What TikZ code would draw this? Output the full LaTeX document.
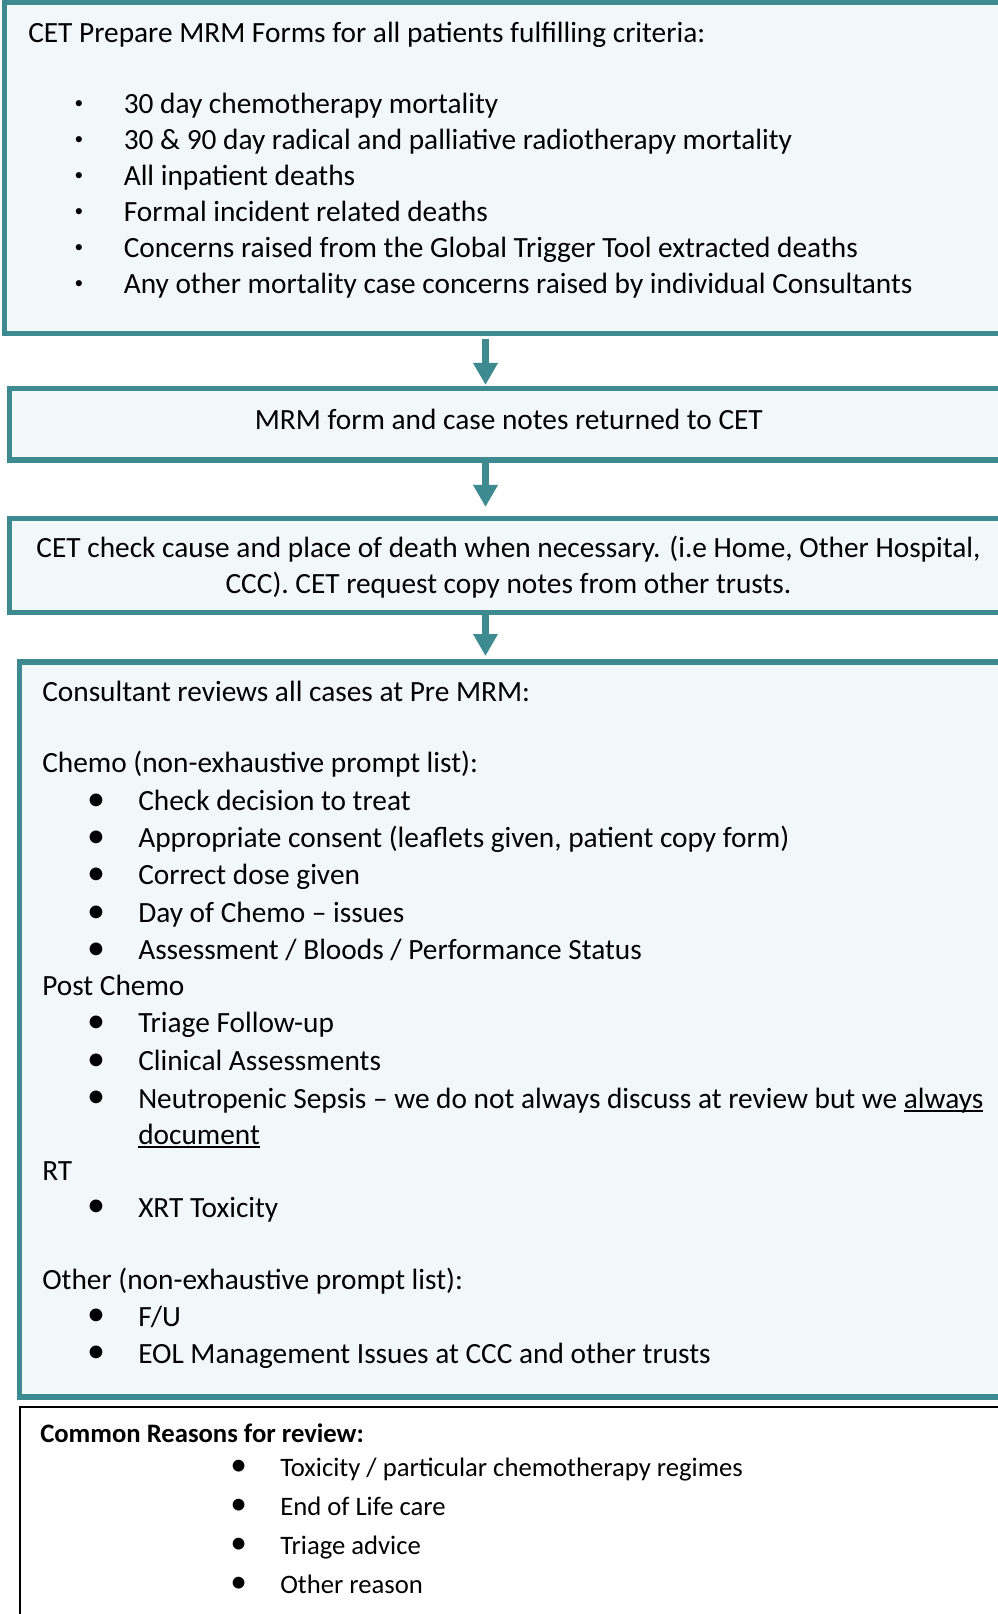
\documentclass[tikz,border=0pt]{standalone}
\usepackage{fontspec}
\setmainfont{Carlito}
\usetikzlibrary{arrows.meta}
\definecolor{tealc}{RGB}{61,139,145}
\definecolor{fillc}{RGB}{242,247,250}
\newcommand\myul[1]{{\setbox0\hbox{#1}\rlap{\rule[-3.3pt]{\wd0}{1.5pt}}\box0}}
\begin{document}
\begin{tikzpicture}[x=0.75pt,y=-0.75pt,
  tbox/.style={draw=tealc, line width=3.9pt, fill=fillc, rectangle, inner sep=0pt, outer sep=0pt, anchor=north west},
  wbox/.style={draw=black, line width=1.1pt, fill=white, rectangle, inner sep=0pt, outer sep=0pt, anchor=north west},
  txt/.style={font=\fontsize{22pt}{26pt}\selectfont, inner sep=0pt, anchor=base west},
  ctxt/.style={font=\fontsize{22pt}{26pt}\selectfont, inner sep=0pt, anchor=base},
  stxt/.style={font=\fontsize{20pt}{24pt}\selectfont, inner sep=0pt, anchor=base west},
  sbul/.style={font=\fontsize{13pt}{14pt}\selectfont, inner sep=0pt, anchor=center},
  bbul/.style={font=\fontsize{27pt}{28pt}\selectfont, inner sep=0pt, anchor=center},
  arr/.style={draw=tealc, line width=5.6pt, -{Triangle[width=17.5pt,length=16.5pt]}}
]
\useasboundingbox (0,0) rectangle (998,1614);

% boxes
\node[tbox, minimum width=754pt, minimum height=248.6pt] (b1) at (4.5,2) {};
\node[tbox, minimum width=750pt, minimum height=53.8pt] (b2) at (9.8,388.3) {};
\node[tbox, minimum width=750pt, minimum height=70.7pt] (b3) at (9.7,518.3) {};
\node[tbox, minimum width=742.5pt, minimum height=551.3pt] (b4) at (19.7,662) {};
\node[wbox, minimum width=742.5pt, minimum height=172.5pt] (b5) at (20,1407) {};

% arrows
\coordinate (ax) at (485.5,0);
\draw[arr, shorten <=4pt, shorten >=2.5pt] (b1.south -| ax) -- (b2.north -| ax);
\draw[arr, shorten <=2pt, shorten >=8.5pt] (b2.south -| ax) -- (b3.north -| ax);
\draw[arr, shorten <=2pt, shorten >=4.5pt] (b3.south -| ax) -- (b4.north -| ax);

% box 1
\node[txt] (t1) at (28,42) {CET Prepare MRM Forms for all patients fulfilling criteria:};
\foreach \yy/\nn in {105/p1,141/p2,177/p3,213/p4,249/p5,285/p6}
  \node[sbul] (\nn) at (79,\yy) {•};
\node[txt] (l1) at (123.5,113) {30 day chemotherapy mortality};
\node[txt] (l2) at (123.5,149) {30 \& 90 day radical and palliative radiotherapy mortality};
\node[txt] (l3) at (123.5,185) {All inpatient deaths};
\node[txt] (l4) at (123.5,221) {Formal incident related deaths};
\node[txt] (l5) at (123.5,257) {Concerns raised from the Global Trigger Tool extracted deaths};
\node[txt] (l6) at (123.5,293) {Any other mortality case concerns raised by individual Consultants};

% box 2
\node[ctxt] (t2) at (508.8,429) {MRM form and case notes returned to CET};

% box 3
\node[ctxt] (t3a) at (508.5,557.5) {CET check cause and place of death when necessary. (i.e Home, Other Hospital,};
\node[ctxt] (t3b) at (508.5,593.5) {CCC). CET request copy notes from other trusts.};

% box 4
\node[txt] (c0) at (42,701.5) {Consultant reviews all cases at Pre MRM:};
\node[txt] (c1) at (42,772.5) {Chemo (non-exhaustive prompt list):};
\node[txt] (c2) at (138,810.5) {Check decision to treat};
\node[txt] (c3) at (138,847.6) {Appropriate consent (leaflets given, patient copy form)};
\node[txt] (c4) at (138,884.6) {Correct dose given};
\node[txt] (c5) at (138,922.7) {Day of Chemo – issues};
\node[txt] (c6) at (138,959.8) {Assessment / Bloods / Performance Status};
\node[txt] (c7) at (42,995.8) {Post Chemo};
\node[txt] (c8) at (138,1032.9) {Triage Follow-up};
\node[txt] (c9) at (138,1070.9) {Clinical Assessments};
\node[txt] (c10) at (138,1108) {Neutropenic Sepsis – we do not always discuss at review but we \myul{always}};
\node[txt] (c11) at (138,1144) {\myul{document}};
\node[txt] (c12) at (42,1180) {RT};
\node[txt] (c13) at (138,1217) {XRT Toxicity};
\node[txt] (c14) at (42,1289) {Other (non-exhaustive prompt list):};
\node[txt] (c15) at (138,1326) {F/U};
\node[txt] (c16) at (138,1363) {EOL Management Issues at CCC and other trusts};
\foreach \yy/\nn in {802/q1,839/q2,876/q3,914/q4,951/q5,1024/q6,1062/q7,1099/q8,1208/q9,1317/q10,1354/q11}
  \node[bbul] (\nn) at (96,\yy) {•};

% box 5
\node[stxt, font=\fontsize{20pt}{24pt}\selectfont\bfseries] (r0) at (40,1442) {Common Reasons for review:};
\node[stxt] (r1) at (280,1476) {Toxicity / particular chemotherapy regimes};
\node[stxt] (r2) at (280,1515) {End of Life care};
\node[stxt] (r3) at (280,1554) {Triage advice};
\node[stxt] (r4) at (280,1593) {Other reason};
\foreach \yy/\nn in {1468/s1,1507/s2,1546/s3,1585/s4}
  \node[bbul, font=\fontsize{25pt}{26pt}\selectfont] (\nn) at (238.7,\yy) {•};
\end{tikzpicture}
\end{document}
